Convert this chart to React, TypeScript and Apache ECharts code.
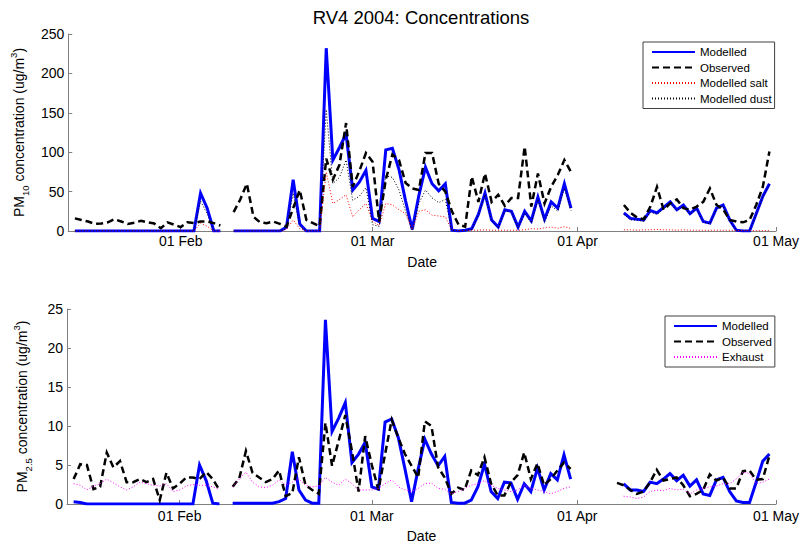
import React, { useEffect, useRef } from "react";
import * as echarts from "echarts";

// Day numbers are counted from 15 Jan 2004 (day 0); data start 16 Jan 2004 (day 1).
const firstDay = 1;
const xMin = 0;
const xMax = 107;
const tickDays = [17, 46, 77, 107];
const tickLabels = ["01 Feb", "01 Mar", "01 Apr", "01 May"];

const pm10Ticks = [0, 50, 100, 150, 200, 250];
const pm25Ticks = [0, 5, 10, 15, 20, 25];

const N = null;

// PM10 (top panel)
const pm10Modelled = [
  0, 0, 0, 0, 0, 0, 0, 0, 0, 0, 0, 0, 0, 0, 0, 0, 0, 0, 0,
  48, 29, 0, 0,
  N,
  0, 0, 0, 0, 0, 0, 0, 0,
  5, 65, 9, 0, 0, 0,
  232, 90, 106, 123, 52, 62, 77, 16, 12, 103,
  105, 78, 38, 2, 45, 81, 60, 51, 60, 1,
  0, 1, 3, 21, 48, 14, 5, 27, 25, 5,
  25, 13, 43, 15, 37, 29, 60, 29,
  N, N, N, N, N, N, N,
  23, 16, 15, 14, 26, 23, 30, 37, 27, 33, 22, 29, 12, 10, 29, 33, 14, 1, 0, 0, 22, 44, 60,
];
const pm10Observed = [
  16, 14, 12, 9, 9.5, 11, 15, 12, 9, 10.5, 13, 11, 9.5, 3.5, 11, 8, 5, 11, 10, 12, 12, 10, 7,
  N,
  24, 40, 60, 18, 11, 10, 12, 9, 5.5, 29, 52, 14, 10, 6,
  92, 65, 84, 137, 56, 76, 99, 88, 12, 65,
  97, 90, 61, 54, 52, 99, 99, 60, 50, 25,
  8, 5.5, 69, 37, 73, 37, 46, 32, 42, 42,
  107, 31, 73, 35, 56, 71, 90, 75,
  N, N, N, N, N, N, N,
  33, 23, 17, 15, 31, 56, 27, 35, 40, 29, 27, 31, 37, 54, 33, 27.5, 14, 12, 11, 14, 33, 56, 101,
];
const pm10Salt = [
  0, 0, 0, 0, 0, 0, 0, 0, 0, 0, 0, 0, 0, 0, 0, 0, 0, 0, 0,
  10, 6, 0, 0,
  N,
  0, 0, 0, 0, 0, 0, 0, 0,
  2, 14, 3, 0, 0, 0,
  75, 35, 40, 46, 18, 27, 35, 12, 7, 35,
  33, 27, 22, 2, 25, 27, 20, 19, 18, 1,
  0.5, 0.5, 1, 1, 1.5, 1, 1, 1, 1, 1,
  1.5, 3, 2.5, 4, 5, 3.5, 5.5, 3,
  N, N, N, N, N, N, N,
  1.5, 1.5, 1, 1.5, 1.5, 2, 1.5, 1.5, 1, 1.5, 1, 1, 1, 1, 1, 1, 1, 0.5, 0.5, 0.5, 0.5, 0.5, 0.5,
];
const pm10Dust = [
  0, 0, 0, 0, 0, 0, 0, 0, 0, 0, 0, 0, 0, 0, 0, 0, 0, 0, 0,
  38, 22, 0, 0,
  N,
  0, 0, 0, 0, 0, 0, 0, 0,
  3, 48, 6, 0, 0, 0,
  154, 60, 68, 90, 39, 44, 55, 8, 6, 70,
  68, 52, 25, 1, 35, 52, 42, 36, 40, 0.5,
  0, 0.5, 2, 20, 46, 13, 4, 26, 24, 4,
  23, 10, 40, 11, 32, 25, 54, 26,
  N, N, N, N, N, N, N,
  21, 14, 14, 12, 24, 21, 28, 35, 26, 31, 21, 28, 11, 9, 28, 32, 13, 0.5, 0, 0, 21, 43, 59,
];

// PM2.5 (bottom panel)
const pm25Modelled = [
  0.3, 0.2, 0, 0, 0, 0, 0, 0, 0, 0, 0, 0, 0, 0, 0, 0, 0, 0, 0,
  5, 3, 0.1, 0,
  N,
  0.1, 0.1, 0.1, 0.1, 0.1, 0.1, 0.1, 0.3, 0.7, 6.7, 1.8, 0.5, 0.1, 0.1,
  23.6, 9.3, 11, 13, 5.3, 6.4, 7.9, 2.2, 1.9, 10.5,
  10.9, 8.5, 4.5, 0.3, 4.5, 8.3, 6.4, 4.9, 6.1, 0.2,
  0.1, 0.1, 0.5, 2.2, 5.1, 1.6, 0.7, 2.8, 2.7, 0.6,
  2.6, 1.6, 4.6, 1.8, 3.9, 3.1, 6.3, 3.2,
  N, N, N, N, N, N, N,
  2.6, 1.8, 1.8, 1.6, 2.8, 2.6, 3.2, 3.9, 3.0, 3.7, 2.3, 3.1, 1.3, 1.1, 3.1, 3.4, 1.6, 0.4, 0.2, 0.2, 2.8, 5.5, 6.4,
];
const pm25Observed = [
  3.2, 5.1, 5.0, 1.9, 2.2, 6.6, 4.7, 5.5, 2.8, 2.8, 3.2, 2.8, 3.2, 0.5, 4.0, 2.0, 2.6, 3.4, 3.4, 3.2, 4.1, 3.2, 1.8,
  N,
  2.2, 3.3, 6.8, 4.0, 3.4, 2.8, 3.2, 4.3, 1.0, 1.4, 6.0, 2.4, 1.8, 1.3,
  10.4, 4.9, 8.1, 11.4, 6.8, 1.6, 8.7, 5.0, 1.8, 6.4,
  10.8, 8.5, 6.4, 4.9, 3.4, 10.6, 10.0, 4.7, 3.4, 1.3,
  2.1, 1.8, 4.3, 3.7, 6.0, 2.6, 1.1, 1.1, 2.8, 3.7,
  6.6, 3.2, 5.2, 2.4, 3.2, 4.3, 5.3, 4.5,
  N, N, N, N, N, N, 2.7,
  2.4, 1.8, 1.3, 1.6, 2.8, 4.4, 3.0, 3.2, 3.4, 2.4, 1.0, 1.3, 1.8, 3.8, 3.0, 3.4, 2.0, 2.0, 4.2, 4.3, 3.1, 3.2, 6.2,
];
const pm25Exhaust = [
  2.6, 2.4, 1.8, 2.3, 2.6, 3.2, 2.7, 2.2, 1.8, 2.2, 2.8, 2.6, 2.4, 2.3, 2.6, 1.6, 1.8, 2.3, 2.5, 2.4, 2.4, 2.2, 1.9,
  N,
  2.2, 3.2, 4.1, 2.8, 2.2, 2.1, 2.4, 3.1, 2.4, 2.8, 3.2, 2.4, 2.2, 2.3,
  3.4, 2.8, 2.4, 3.2, 2.6, 1.8, 1.8, 1.8, 2.0, 2.6,
  3.1, 2.2, 1.8, 1.6, 2.0, 2.6, 2.7, 2.0, 1.9, 1.3,
  1.6, 2.0, 2.4, 2.6, 3.0, 2.4, 2.0, 1.8, 1.6, 1.8,
  2.4, 2.0, 1.8, 1.6, 1.3, 1.6, 2.0, 2.2,
  N, N, N, N, N, N, N,
  1.0, 0.9, 0.7, 0.9, 1.6, 1.8, 1.7, 2.0, 1.8, 1.9, 1.3, 1.8, 2.0, 2.2, 2.3, 2.6, 2.6, 3.2, 4.1, 3.9, 2.6, 2.8, 3.2,
];

const FONT = "'Liberation Sans', Arial, Helvetica, sans-serif";
const AXIS_GRAY = "#808080";

const toPairs = (arr: (number | null)[]) =>
  arr.map((v, i) => [firstDay + i, v == null ? "-" : v]);

const makeXAxis = (gridIndex: number, labelMargin: number, nameGap: number) => ({
  type: "value",
  gridIndex,
  min: xMin,
  max: xMax,
  name: "Date",
  nameLocation: "middle",
  nameGap,
  nameTextStyle: { color: "#000", fontSize: 14, fontFamily: FONT },
  axisLine: { show: true, onZero: false, lineStyle: { color: AXIS_GRAY, width: 1 } },
  axisTick: {
    show: true,
    inside: true,
    length: 4,
    customValues: tickDays,
    lineStyle: { color: AXIS_GRAY, width: 1 },
  },
  axisLabel: {
    show: true,
    customValues: tickDays,
    formatter: (v: number) => {
      const k = tickDays.indexOf(Math.round(v));
      return k >= 0 ? tickLabels[k] : "";
    },
    color: "#000",
    fontSize: 14,
    fontFamily: FONT,
    margin: labelMargin,
    showMinLabel: true,
    showMaxLabel: true,
  },
  splitLine: { show: false },
});

const richName = {
  a: { fontSize: 14, fontFamily: FONT, color: "#000", lineHeight: 22 },
  s: { fontSize: 9.5, fontFamily: FONT, color: "#000", lineHeight: 10, verticalAlign: "bottom" },
  p: { fontSize: 9.5, fontFamily: FONT, color: "#000", lineHeight: 10, verticalAlign: "top" },
};

const makeYAxis = (gridIndex: number, ticks: number[], name: string) => ({
  type: "value",
  gridIndex,
  min: ticks[0],
  max: ticks[ticks.length - 1],
  interval: ticks[1] - ticks[0],
  name,
  nameLocation: "middle",
  nameGap: 34,
  nameRotate: 90,
  nameTextStyle: { rich: richName },
  axisLine: { show: true, lineStyle: { color: AXIS_GRAY, width: 1 } },
  axisTick: { show: true, inside: true, length: 4, lineStyle: { color: AXIS_GRAY, width: 1 } },
  axisLabel: { color: "#000", fontSize: 14, fontFamily: FONT, margin: 4 },
  splitLine: { show: false },
});

const lineSeries = (
  name: string,
  data: (number | null)[],
  axis: number,
  color: string,
  width: number,
  type: any,
  z: number
) => ({
  name,
  type: "line",
  xAxisIndex: axis,
  yAxisIndex: axis,
  data: toPairs(data),
  symbol: "none",
  showSymbol: false,
  connectNulls: false,
  silent: true,
  z,
  lineStyle: { color, width, type, cap: "butt", join: "miter" },
  itemStyle: { color },
});

const legendBase = {
  orient: "vertical",
  itemWidth: 43,
  itemHeight: 12,
  itemGap: 3.5,
  padding: [4, 3, 4, 8],
  borderColor: "#404040",
  borderWidth: 1,
  backgroundColor: "#ffffff",
  selectedMode: false,
  itemStyle: { opacity: 0 },
  textStyle: { fontSize: 11.5, fontFamily: FONT, color: "#000", lineHeight: 12 },
};

export default function App() {
  const ref = useRef<HTMLDivElement>(null);

  useEffect(() => {
    document.body.style.margin = "0";
    if (!ref.current) return;
    const chart = echarts.init(ref.current, undefined, { renderer: "svg" });
    const option: any = {
      animation: false,
      backgroundColor: "#ffffff",
      graphic: [
        {
          type: "text",
          x: 421,
          y: 17,
          style: {
            text: "RV4 2004: Concentrations",
            fontSize: 18.5,
            fontFamily: FONT,
            fill: "#000",
            textAlign: "center",
            textVerticalAlign: "middle",
          },
        },
      ],
      grid: [
        { left: 67, right: 23, top: 34, height: 197, containLabel: false },
        { left: 67, right: 23, top: 309, height: 198, containLabel: false },
      ],
      xAxis: [makeXAxis(0, 3, 24), makeXAxis(1, 5, 25)],
      yAxis: [
        makeYAxis(0, pm10Ticks, "{a|PM}{s|10}{a| concentration (ug/m}{p|3}{a|)}"),
        makeYAxis(1, pm25Ticks, "{a|PM}{s|2.5}{a| concentration (ug/m}{p|3}{a|)}"),
      ],
      legend: [
        {
          ...legendBase,
          left: 643,
          top: 42,
          data: ["Modelled", "Observed", "Modelled salt", "Modelled dust"],
        },
        {
          ...legendBase,
          left: 665,
          top: 316,
          data: ["Modelled", "Observed", "Exhaust"],
        },
      ],
      series: [
        lineSeries("Modelled", pm10Modelled, 0, "#0000ff", 3, "solid", 2),
        lineSeries("Observed", pm10Observed, 0, "#000000", 2.5, [7, 4], 3),
        lineSeries("Modelled salt", pm10Salt, 0, "#ff0000", 1, [1, 2], 4),
        lineSeries("Modelled dust", pm10Dust, 0, "#000000", 1, [1, 2], 5),
        lineSeries("Modelled", pm25Modelled, 1, "#0000ff", 3, "solid", 2),
        lineSeries("Observed", pm25Observed, 1, "#000000", 2.5, [7, 4], 3),
        lineSeries("Exhaust", pm25Exhaust, 1, "#ff00ff", 1, [1, 2], 4),
      ],
    };
    chart.setOption(option);
    return () => chart.dispose();
  }, []);

  return <div ref={ref} style={{ width: 802, height: 544 }} />;
}
